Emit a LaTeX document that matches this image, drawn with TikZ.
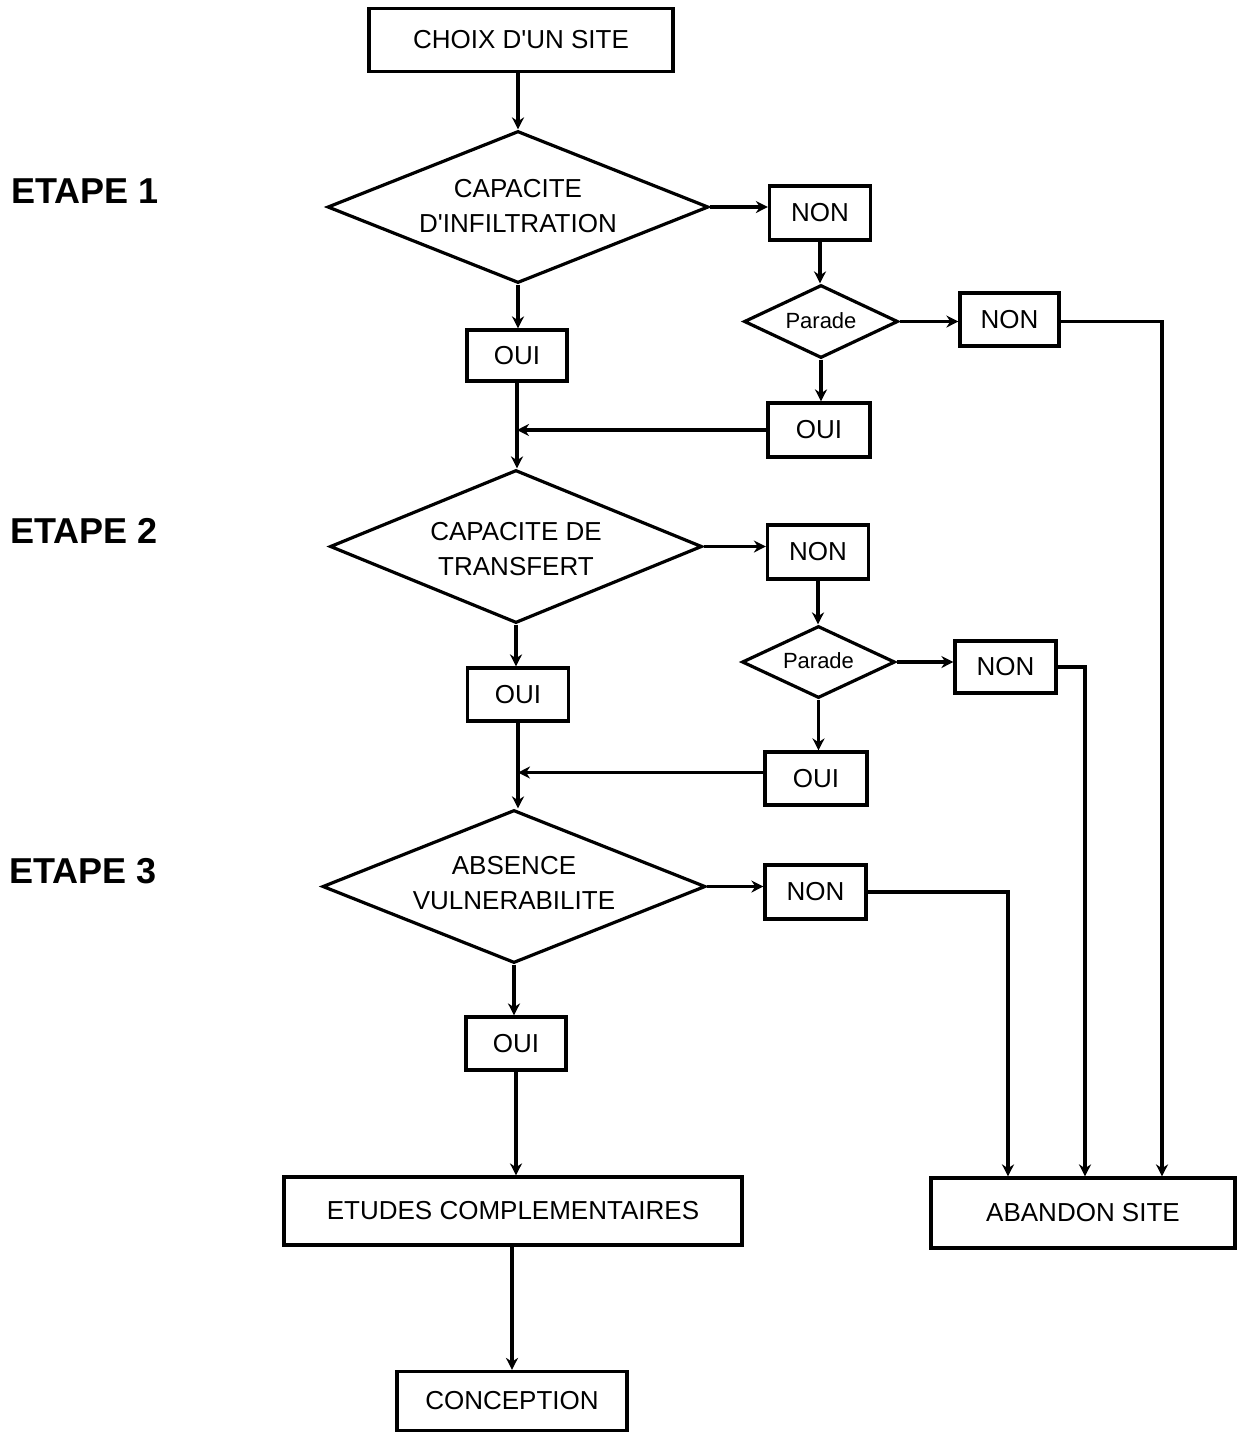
\documentclass[tikz,border=0pt]{standalone}
\usepackage{fontspec}
\setmainfont{Liberation Sans}[Ligatures=TeXOff]
\usetikzlibrary{shapes.geometric,arrows.meta,calc}
\begin{document}
\begin{tikzpicture}[x=0.5pt,y=-0.5pt,
  line width=1.6pt,
  box/.style={draw,rectangle,inner sep=0pt,font=\fontsize{13}{15}\selectfont},
  dia/.style={draw,diamond,inner sep=0pt},
  dtext/.style={align=center,inner sep=0pt,font=\fontsize{13}{17.5}\selectfont},
  ptext/.style={inner sep=0pt,font=\fontsize{11}{13}\selectfont},
  etape/.style={inner sep=0pt,font=\fontsize{18}{20}\selectfont\bfseries},
  arr/.style={-{Stealth[length=6pt,width=6pt]}}]
\useasboundingbox (0,0) rectangle (1245,1432);

% ETAPE labels
\node[etape] (e1) at (85,191) {ETAPE 1};
\node[etape] (e2) at (84,531) {ETAPE 2};
\node[etape] (e3) at (83,871) {ETAPE 3};

% main column
\node[box,minimum width=152pt,minimum height=31.5pt] (choix) at (521,40) {CHOIX D'UN SITE};
\node[dia,minimum width=190.5pt,minimum height=76pt] (d1) at (518,207) {};
\node[dtext] (d1t) at (518,206) {CAPACITE\\D'INFILTRATION};
\node[box,minimum width=50pt,minimum height=25.5pt] (oui1) at (517,355.5) {OUI};
\node[dia,minimum width=186pt,minimum height=76.5pt] (d2) at (516,546.5) {};
\node[dtext] (d2t) at (516,549) {CAPACITE DE\\TRANSFERT};
\node[box,minimum width=50.5pt,minimum height=26.5pt] (oui2) at (518,694.5) {OUI};
\node[dia,minimum width=191.5pt,minimum height=76.5pt] (d3) at (514,886.5) {};
\node[dtext] (d3t) at (514,883) {ABSENCE\\VULNERABILITE};
\node[box,minimum width=50pt,minimum height=26.5pt] (oui3) at (516,1043.5) {OUI};
\node[box,minimum width=229pt,minimum height=34pt] (etudes) at (513,1211) {ETUDES COMPLEMENTAIRES};
\node[box,minimum width=115pt,minimum height=29.5pt] (concep) at (512,1401) {CONCEPTION};

% right column, step 1
\node[box,minimum width=50.5pt,minimum height=27pt] (non1) at (820,213) {NON};
\node[dia,minimum width=77pt,minimum height=36.5pt] (p1) at (821,321.5) {};
\node[ptext] (p1t) at (821,321) {Parade};
\node[box,minimum width=49.5pt,minimum height=26.5pt] (non1b) at (1009.5,319.5) {NON};
\node[box,minimum width=51pt,minimum height=27pt] (oui1b) at (819,430) {OUI};

% right column, step 2
\node[box,minimum width=50.5pt,minimum height=27pt] (non2) at (818,552) {NON};
\node[dia,minimum width=76.5pt,minimum height=36pt] (p2) at (818.5,662) {};
\node[ptext] (p2t) at (818.5,661) {Parade};
\node[box,minimum width=50.5pt,minimum height=26pt] (non2b) at (1005.5,667) {NON};
\node[box,minimum width=51pt,minimum height=26.5pt] (oui2b) at (816,778.5) {OUI};

% step 3
\node[box,minimum width=50.5pt,minimum height=27pt] (non3) at (815.5,892) {NON};

% abandon
\node[box,minimum width=152pt,minimum height=35pt] (aband) at (1083,1213) {ABANDON SITE};

% main column connectors
\draw[arr] (d1.north |- choix.south) -- (d1.north);
\draw[arr] (d1.south) -- (d1.south |- oui1.north);
\draw[arr] (oui1.south) -- (oui1.south |- d2.north);
\draw[arr] (d2.south) -- (d2.south |- oui2.north);
\draw[arr] (oui2.south) -- (oui2.south |- d3.north);
\draw[arr] (d3.south) -- (d3.south |- oui3.north);
\draw[arr] (oui3.south) -- (oui3.south |- etudes.north);
\draw[arr] (concep.north |- etudes.south) -- (concep.north);

% step 1 branch
\draw[arr] (d1.east) -- (non1.west |- d1.east);
\draw[arr] (non1.south) -- (non1.south |- p1.north);
\draw[arr] (p1.east) -- (non1b.west |- p1.east);
\draw[arr] (p1.south) -- (p1.south |- oui1b.north);
\draw[arr] (oui1b.west) -- (oui1b.west -| oui1.south);
\draw[arr] ($(non1b.east)+(0,2)$) -| ($(aband.north)+(79,0)$);

% step 2 branch
\draw[arr] (d2.east) -- (non2.west |- d2.east);
\draw[arr] (non2.south) -- (non2.south |- p2.north);
\draw[arr] (p2.east) -- (non2b.west |- p2.east);
\draw[arr] (p2.south) -- (p2.south |- oui2b.north);
\draw[arr] ($(oui2b.west)+(0,-6)$) -- ($(oui2b.west -| oui2.south)+(0,-6)$);
\draw[arr] (non2b.east) -| ($(aband.north)+(2,0)$);

% step 3 branch
\draw[arr] (d3.east) -- (non3.west |- d3.east);
\draw[arr] (non3.east) -| ($(aband.north)+(-75,0)$);
\end{tikzpicture}
\end{document}
